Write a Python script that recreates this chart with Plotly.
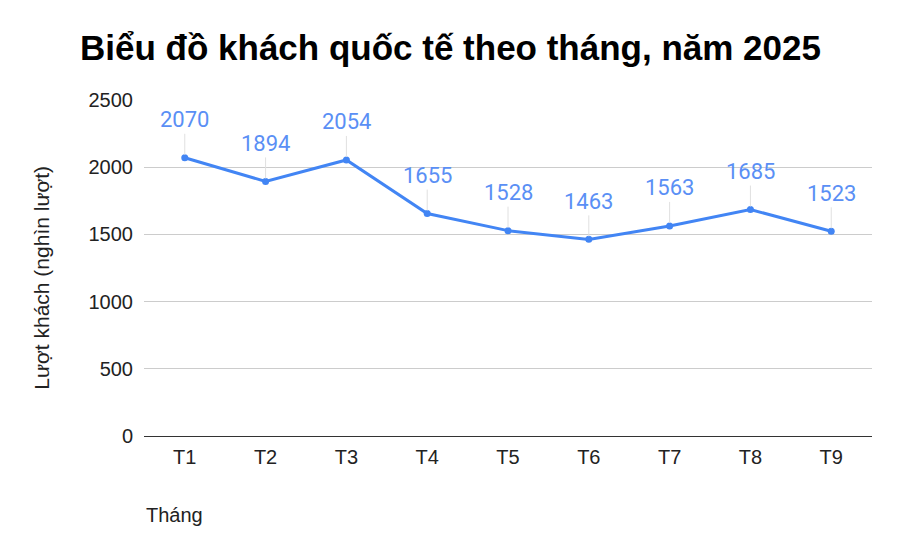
import plotly.graph_objects as go

months = ["T1", "T2", "T3", "T4", "T5", "T6", "T7", "T8", "T9"]
visitors = [2070, 1894, 2054, 1655, 1528, 1463, 1563, 1685, 1523]
y_ticks = [0, 500, 1000, 1500, 2000, 2500]

title_text = "Biểu đồ khách quốc tế theo tháng, năm 2025"
x_title = "Tháng"
y_title = "Lượt khách (nghìn lượt)"

BLUE = "#4285F4"

# page body has an 8px margin, so figure coords = screen coords - 8
fig = go.Figure()
fig.add_trace(go.Scatter(
    x=months, y=visitors, mode="lines+markers",
    line=dict(color=BLUE, width=3),
    marker=dict(color=BLUE, size=7),
    hoverinfo="skip", showlegend=False,
))

annotations = []
for m, v in zip(months, visitors):
    annotations.append(dict(
        x=m, y=v, xref="x", yref="y",
        text=str(v), showarrow=True, ax=0, ay=-38,
        arrowhead=0, arrowwidth=1, arrowcolor="#e0e0e0", standoff=3,
        font=dict(family="Roboto", size=22, color="#5a8ff5"),
    ))

annotations.append(dict(
    x=0, y=-0.235, xref="paper", yref="paper",
    xanchor="left", yanchor="middle", showarrow=False,
    text=x_title, font=dict(family="Liberation Sans", size=20, color="#222"),
))
annotations.append(dict(
    x=-0.142, y=0.47, xref="paper", yref="paper",
    xanchor="center", yanchor="middle", showarrow=False, textangle=-90,
    text=y_title, font=dict(family="Liberation Sans", size=21, color="#222"),
))

fig.update_layout(
    width=900, height=555,
    paper_bgcolor="white", plot_bgcolor="white",
    margin=dict(l=135.5, r=35.5, t=92, b=127, autoexpand=False),
    title=dict(
        text="<b>" + title_text + "</b>",
        x=72 / 900, xanchor="left", xref="container",
        y=1 - 40 / 555, yanchor="middle", yref="container",
        font=dict(family="Liberation Sans", size=35, color="#000"),
    ),
    xaxis=dict(
        type="category", showgrid=False, showline=False, ticks="",
        ticklabelstandoff=7,
        tickfont=dict(family="Liberation Sans", size=20, color="#222"),
        fixedrange=True,
    ),
    yaxis=dict(
        range=[0, 2500], tickvals=y_ticks,
        showgrid=True, gridcolor="#cccccc", gridwidth=1,
        zeroline=True, zerolinecolor="#333333", zerolinewidth=1,
        showline=False, ticks="", ticklabelstandoff=10,
        tickfont=dict(family="Liberation Sans", size=20, color="#222"),
        fixedrange=True,
    ),
    annotations=annotations,
)

fig.write_html("out.html")
